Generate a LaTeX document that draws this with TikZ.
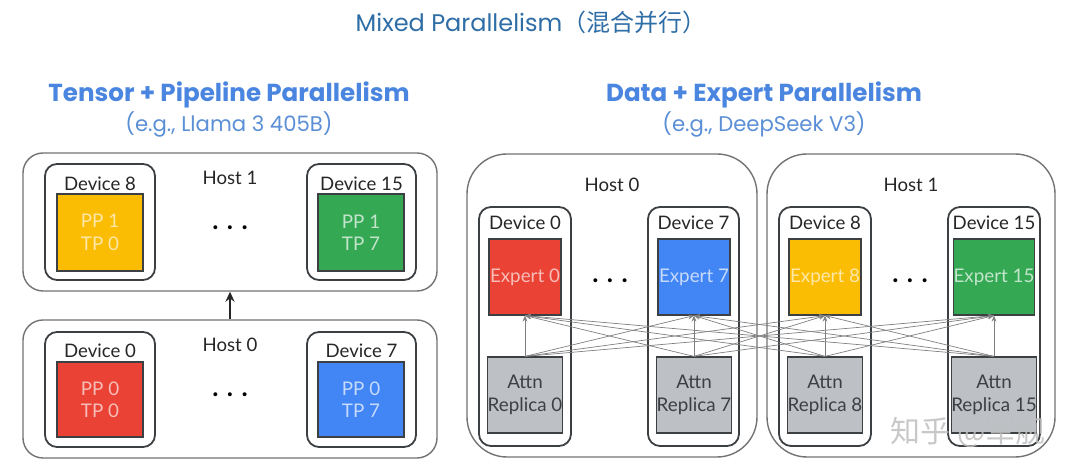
\documentclass[tikz,border=0pt]{standalone}
\usepackage{fontspec}
\setmainfont{Lato}
\newfontfamily\titlefont{Poppins}
\newfontfamily\cjkfont{Noto Sans CJK SC}
\usetikzlibrary{arrows.meta}
\definecolor{gred}{HTML}{EA4335}
\definecolor{gblue}{HTML}{4285F4}
\definecolor{gyellow}{HTML}{FBBC04}
\definecolor{ggreen}{HTML}{34A853}
\definecolor{ggray}{HTML}{BDC1C6}
\definecolor{ink}{HTML}{3C4043}
\definecolor{titleblue}{HTML}{2F6DA6}
\definecolor{headblue}{HTML}{4A86E0}
\definecolor{subblue}{HTML}{5B8FD6}
\tikzset{
  hostbox/.style={draw=black!55, line width=0.7pt, rounded corners=10pt, inner sep=0pt},
  bighost/.style={draw=black!55, line width=0.7pt, rounded corners=20pt, inner sep=0pt},
  devbox/.style={draw=ink, line width=0.9pt, rounded corners=6pt, inner sep=0pt},
  unitbox/.style={draw=ink, line width=0.6pt, inner sep=0pt, align=center, font=\fontsize{9.4}{11.2}\selectfont},
  lbl/.style={font=\fontsize{9.3}{11}\selectfont, text=black!85, inner sep=0pt},
  dots/.style={font=\fontsize{13}{13}\selectfont\bfseries, inner sep=0pt},
  flow/.style={draw=black!50, line width=0.35pt, -{Stealth[length=3pt,width=2.4pt]}},
  uparrow/.style={draw=black!85, line width=0.9pt, -{Stealth[length=5pt,width=4.5pt]}},
}
\begin{document}
\begin{tikzpicture}[x=0.5pt,y=-0.5pt]
\useasboundingbox (0,0) rectangle (1080,474);
\fill[white] (0,0) rectangle (1080,474);

% main title
\node[inner sep=0pt, text=titleblue] (maintitle) at (531,22)
  {\titlefont\fontsize{12}{14}\selectfont Mixed Parallelism\cjkfont（混合并行）};

% ---------- left panel ----------
\node[inner sep=0pt, text=headblue] (ltitle) at (229,95)
  {\titlefont\bfseries\fontsize{12.3}{14}\selectfont Tensor + Pipeline Parallelism};
\node[inner sep=0pt, text=subblue] (lsub) at (229,124)
  {\titlefont\fontsize{10.6}{12}\selectfont (e.g., Llama 3 405B)};

\node[hostbox, minimum width=207pt, minimum height=69pt] (lh1) at (230,222) {};
\node[hostbox, minimum width=207pt, minimum height=69pt] (lh0) at (230,389) {};
\node[lbl] (lh1l) at (230,178) {Host 1};
\node[lbl] (lh0l) at (230,345) {Host 0};
\node[dots] (lh1d) at (230,228) {. . .};
\node[dots] (lh0d) at (230,395) {. . .};
\draw[uparrow] (lh0.north) -- (lh1.south);

\node[devbox, minimum width=55pt, minimum height=58pt] (ld8) at (100,222) {};
\node[devbox, minimum width=54.5pt, minimum height=58pt] (ld15) at (361.5,222) {};
\node[devbox, minimum width=55pt, minimum height=57.5pt] (ld0) at (100,389.5) {};
\node[devbox, minimum width=54.5pt, minimum height=57.5pt] (ld7) at (361.5,389.5) {};
\node[lbl] (ld8l) at (100,184) {Device 8};
\node[lbl] (ld15l) at (361.5,184) {Device 15};
\node[lbl] (ld0l) at (100,351) {Device 0};
\node[lbl] (ld7l) at (361.5,351) {Device 7};

\node[unitbox, fill=gyellow, text=gyellow!35!white, minimum width=43pt, minimum height=38.5pt] (lu8) at (100,232.5) {PP 1\\TP 0};
\node[unitbox, fill=ggreen, text=ggreen!30!white, minimum width=43pt, minimum height=38.5pt] (lu15) at (361,232.5) {PP 1\\TP 7};
\node[unitbox, fill=gred, text=gred!35!white, minimum width=43pt, minimum height=37.5pt] (lu0) at (100,399.5) {PP 0\\TP 0};
\node[unitbox, fill=gblue, text=gblue!30!white, minimum width=43pt, minimum height=37.5pt] (lu7) at (361,399.5) {PP 0\\TP 7};

% ---------- right panel ----------
\node[inner sep=0pt, text=headblue] (rtitle) at (764,95)
  {\titlefont\bfseries\fontsize{12.3}{14}\selectfont Data + Expert Parallelism};
\node[inner sep=0pt, text=subblue] (rsub) at (764,124)
  {\titlefont\fontsize{10.6}{12}\selectfont (e.g., DeepSeek V3)};

\node[bighost, minimum width=145pt, minimum height=151.5pt] (rh0) at (612,305.5) {};
\node[bighost, minimum width=144pt, minimum height=151.5pt] (rh1) at (911,305.5) {};
\node[lbl] (rh0l) at (612,185) {Host 0};
\node[lbl] (rh1l) at (911,185) {Host 1};
\node[dots] (rh0d) at (610,281) {. . .};
\node[dots] (rh1d) at (910,281) {. . .};

\node[devbox, minimum width=46pt, minimum height=119.5pt] (rd0) at (525,326.5) {};
\node[devbox, minimum width=45.5pt, minimum height=119.5pt] (rd7) at (693.5,326.5) {};
\node[devbox, minimum width=46pt, minimum height=119.5pt] (rd8) at (825,326.5) {};
\node[devbox, minimum width=46pt, minimum height=119.5pt] (rd15) at (994,326.5) {};
\node[lbl] (rd0l) at (525,223) {Device 0};
\node[lbl] (rd7l) at (693.5,223) {Device 7};
\node[lbl] (rd8l) at (825,223) {Device 8};
\node[lbl] (rd15l) at (994,223) {Device 15};

\node[unitbox, fill=gred, text=gred!35!white, minimum width=36pt, minimum height=38pt] (e0) at (525,277) {Expert 0};
\node[unitbox, fill=gblue, text=gblue!30!white, minimum width=36pt, minimum height=38pt] (e7) at (694,277) {Expert 7};
\node[unitbox, fill=gyellow, text=gyellow!35!white, minimum width=36pt, minimum height=38pt] (e8) at (825,277) {Expert 8};
\node[unitbox, fill=ggreen, text=ggreen!30!white, minimum width=36pt, minimum height=38pt] (e15) at (994,277) {Expert 15};

\node[unitbox, fill=ggray, text=ink, minimum width=36pt, minimum height=38pt] (a0) at (525,395) {Attn\\Replica 0};
\node[unitbox, fill=ggray, text=ink, minimum width=36pt, minimum height=38pt] (a7) at (694,395) {Attn\\Replica 7};
\node[unitbox, fill=ggray, text=ink, minimum width=36pt, minimum height=38pt] (a8) at (825,395) {Attn\\Replica 8};
\node[unitbox, fill=ggray, text=ink, minimum width=39pt, minimum height=38pt] (a15) at (994,395) {Attn\\Replica 15};

\foreach \s in {a0,a7,a8,a15}{
  \foreach \t in {e0,e7,e8,e15}{
    \draw[flow] (\s.north) -- (\t.south);
  }
}

% watermark
\node[inner sep=0pt, text=black!25, opacity=0.85] (wm) at (968,432)
  {\cjkfont\fontsize{15}{15}\selectfont 知乎 @军舰};
\end{tikzpicture}
\end{document}
